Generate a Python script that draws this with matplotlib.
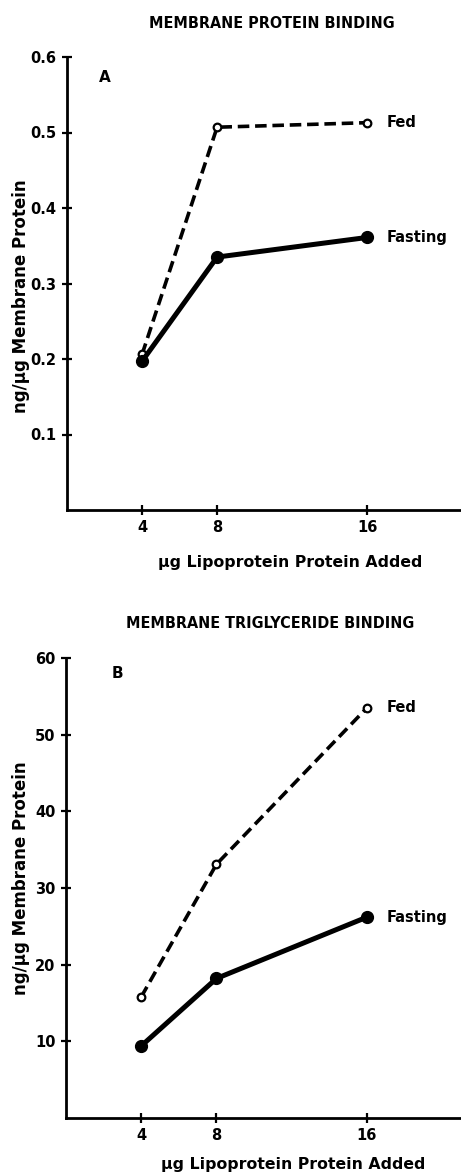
import matplotlib
matplotlib.use("Agg")
import matplotlib.pyplot as plt
from matplotlib import font_manager as fm

x_vals = [4, 8, 16]
a_fed = [0.206, 0.507, 0.513]
a_fasting = [0.197, 0.335, 0.361]
b_fed = [15.8, 33.1, 53.5]
b_fasting = [9.4, 18.2, 26.2]
a_yticks = [0.1, 0.2, 0.3, 0.4, 0.5, 0.6]
a_yticklabels = ["0.1", "0.2", "0.3", "0.4", "0.5", "0.6"]
b_yticks = [10, 20, 30, 40, 50, 60]
x_ticklabels = ["4", "8", "16"]
titles = ["MEMBRANE PROTEIN BINDING", "MEMBRANE TRIGLYCERIDE BINDING"]
panel_letters = ["A", "B"]
ylabel = "ng/\u03bcg Membrane Protein"
xlabel = "\u03bcg Lipoprotein Protein Added"

plt.rcParams['font.family'] = ['DejaVu Sans']

condensed = None
for f in fm.fontManager.ttflist:
    if f.name == 'DejaVu Sans' and 'Condensed' in f.fname and 'Bold' in f.fname and 'Oblique' not in f.fname:
        condensed = f.fname
        break
if condensed is None:
    for f in fm.fontManager.ttflist:
        if 'Narrow' in f.name and 'Bold' in f.fname and 'Italic' not in f.fname:
            condensed = f.fname
            break

fig = plt.figure(figsize=(4.61, 11.76), dpi=100)

W, H = 461, 1176
def ax_rect(left, right, top, bottom):
    return [left / W, 1 - bottom / H, (right - left) / W, (bottom - top) / H]

def fx(px):
    return px / W

def fy(py):
    return 1 - py / H

axA = fig.add_axes(ax_rect(67, 461, 57, 510))
axB = fig.add_axes(ax_rect(66, 461, 658, 1118))

panels = [
    (axA, a_fed, a_fasting, (0, 0.6), a_yticks, a_yticklabels, 0),
    (axB, b_fed, b_fasting, (0, 60), b_yticks, [str(v) for v in b_yticks], 1),
]

title_pos = [(272, 23), (270, 623)]
xlabel_pos = [(290, 563), (293, 1165)]
ylabel_pos = [(21, 296), (21, 878)]
letter_pos = [(0.08, 0.955), (0.115, 0.967)]

for ax, fed, fast, ylim, yt, ytl, i in panels:
    ax.plot(x_vals, fed, linestyle=(0, (3.2, 1.6)), color='black', lw=2.6,
            marker='o', markersize=5.5, markerfacecolor='white',
            markeredgecolor='black', markeredgewidth=1.6, zorder=3)
    ax.plot(x_vals, fast, linestyle='-', color='black', lw=3.6,
            marker='o', markersize=8.5, markerfacecolor='black',
            markeredgecolor='black', zorder=4)
    ax.set_xlim(0, 21)
    ax.set_ylim(*ylim)
    ax.set_xticks(x_vals)
    ax.set_xticklabels(x_ticklabels)
    ax.set_yticks(yt)
    ax.set_yticklabels(ytl)
    for s in ['top', 'right']:
        ax.spines[s].set_visible(False)
    for s in ['left', 'bottom']:
        ax.spines[s].set_linewidth(2.0)
    ax.tick_params(axis='both', direction='inout', length=7, width=1.6,
                   labelsize=10.5, pad=4)
    for lab in ax.get_xticklabels() + ax.get_yticklabels():
        lab.set_fontweight('bold')
    tx, ty = title_pos[i]
    if condensed is not None:
        fp = fm.FontProperties(fname=condensed, size=11.5)
        fig.text(fx(tx), fy(ty), titles[i], ha='center', va='center',
                 fontproperties=fp)
    else:
        fig.text(fx(tx), fy(ty), titles[i], ha='center', va='center',
                 fontsize=10, fontweight='bold')
    lx, ly = xlabel_pos[i]
    fig.text(fx(lx), fy(ly), xlabel, ha='center', va='center',
             fontsize=11.3, fontweight='bold')
    yx, yy = ylabel_pos[i]
    fig.text(fx(yx), fy(yy), ylabel, ha='center', va='center', rotation=90,
             fontsize=12, fontweight='bold')
    px_, py_ = letter_pos[i]
    ax.text(px_, py_, panel_letters[i], transform=ax.transAxes,
            fontsize=11, fontweight='bold', va='center', ha='left')
    ax.annotate("Fed", xy=(x_vals[-1], fed[-1]), xytext=(14, 0),
                textcoords='offset points', fontsize=10.5, fontweight='bold',
                va='center', ha='left')
    ax.annotate("Fasting", xy=(x_vals[-1], fast[-1]), xytext=(14, 0),
                textcoords='offset points', fontsize=10.5, fontweight='bold',
                va='center', ha='left')

fig.savefig("out.png", dpi=100)
